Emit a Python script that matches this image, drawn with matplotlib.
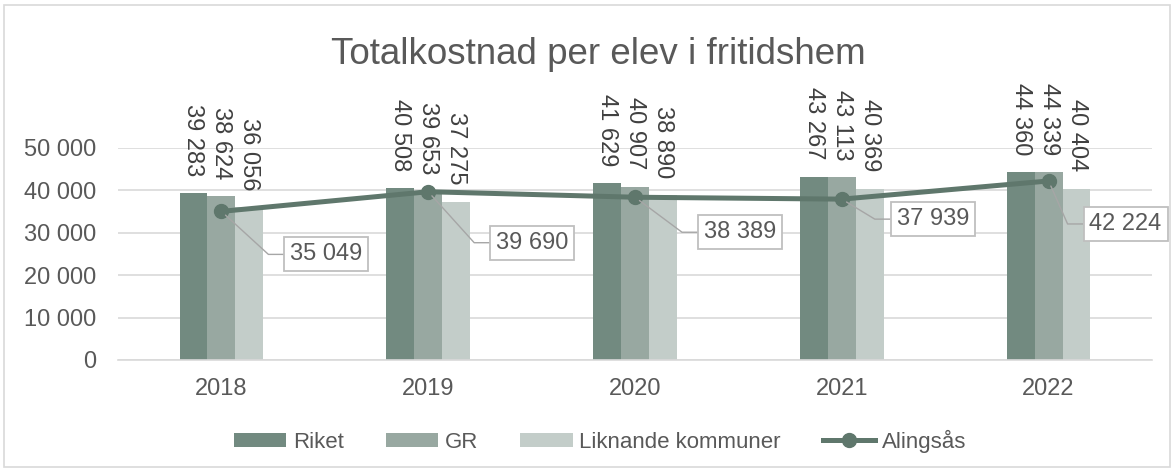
import numpy as np
import matplotlib
matplotlib.use("Agg")
import matplotlib.pyplot as plt
from matplotlib.patches import Rectangle

plt.rcParams['font.family'] = ['Liberation Sans', 'DejaVu Sans']

# data
years = ['2018', '2019', '2020', '2021', '2022']
riket = [39283, 40508, 41629, 43267, 44360]
gr = [38624, 39653, 40907, 43113, 44339]
liknande = [36056, 37275, 38890, 40369, 40404]
alingsas = [35049, 39690, 38389, 37939, 42224]

series_names = ['Riket', 'GR', 'Liknande kommuner']
bar_colors = ['#728a80', '#98a8a1', '#c3cdc9']
line_color = '#5f776c'
text_color = '#595959'
grid_color = '#d9d9d9'

# label box offsets in pixels (dx right, dy down), corner of leader line
box_offsets = [(105, 43), (104, 51), (105, 35), (91, 20), (77, 43)]


def fmt(v):
    return f"{v:,}".replace(",", " ")


fig = plt.figure(figsize=(11.74, 4.71), dpi=100)
ax = fig.add_axes([118 / 1174, 1 - 360 / 471, (1152 - 118) / 1174, (360 - 148) / 471])

x = np.arange(len(years))
w = 0.135
handles = []
for i, (vals, col) in enumerate(zip([riket, gr, liknande], bar_colors)):
    xs = x + (i - 1) * w
    b = ax.bar(xs, vals, width=w, color=col, label=series_names[i], zorder=2)
    handles.append(b)
    for xi, v in zip(xs, vals):
        ax.annotate(fmt(v), (xi, v), xytext=(0, 17),
                    textcoords='offset pixels', rotation=270, ha='center',
                    va='bottom', fontsize=17, color='#404040',
                    annotation_clip=False)

ln, = ax.plot(x, alingsas, color=line_color, lw=3.6, marker='o', markersize=10,
              label='Alingsås', zorder=3)
handles.append(ln)

for xi, v, (dx, dy) in zip(x, alingsas, box_offsets):
    ang = np.degrees(np.arctan2(-dy, dx - 58))
    ax.annotate(fmt(v), (xi, v), xytext=(dx, -dy),
                textcoords='offset pixels', ha='center', va='center',
                fontsize=17, color=text_color, zorder=5,
                bbox=dict(boxstyle='square,pad=0.25', fc='white',
                          ec='#bfbfbf', lw=1.3),
                arrowprops=dict(arrowstyle='-', color='#a6a6a6', lw=1,
                                connectionstyle=f"angle,angleA=0,angleB={ang},rad=0",
                                shrinkA=0, shrinkB=4),
                annotation_clip=False)

ax.set_xlim(-0.5, len(years) - 0.5)
ax.set_ylim(0, 50000)
yt = list(range(0, 50001, 10000))
ax.set_yticks(yt)
ax.set_yticklabels([fmt(v) for v in yt])
ax.set_xticks(x)
ax.set_xticklabels(years)
ax.tick_params(axis='y', length=0, pad=16, labelsize=17, labelcolor=text_color)
ax.tick_params(axis='x', length=0, pad=13, labelsize=17, labelcolor=text_color)
ax.grid(axis='y', color=grid_color, lw=1.2, zorder=0)
ax.set_axisbelow(True)
for s in ['top', 'right', 'left']:
    ax.spines[s].set_visible(False)
ax.spines['bottom'].set_color(grid_color)
ax.spines['bottom'].set_linewidth(1.2)

fig.text(598 / 1174, 1 - 64 / 471, 'Totalkostnad per elev i fritidshem',
         ha='center', va='baseline', fontsize=26.5, color=text_color)

leg = ax.legend(handles=handles, loc='center',
                bbox_to_anchor=(600 / 1174, 1 - 441 / 471),
                bbox_transform=fig.transFigure, ncol=4, frameon=False,
                fontsize=16, handlelength=2.35, handletextpad=0.3,
                columnspacing=1.9, handleheight=0.6)
for t in leg.get_texts():
    t.set_color(text_color)

fig.add_artist(Rectangle((4 / 1174, 4 / 471), 1166 / 1174, 462 / 471,
                         transform=fig.transFigure, fill=False,
                         ec=grid_color, lw=1.2))

fig.savefig('out.png', dpi=100)
